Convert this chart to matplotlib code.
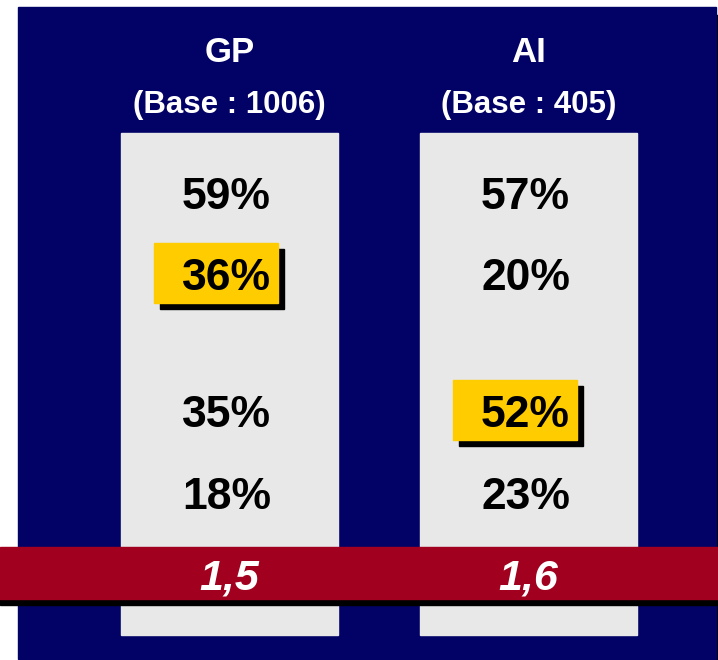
import matplotlib
matplotlib.use("Agg")
import matplotlib.pyplot as plt
from matplotlib.patches import Rectangle

# ---- data ----
groups = ["GP", "AI"]
bases = [1006, 405]
gp_values = [59, 36, 35, 18]
ai_values = [57, 20, 52, 23]
highlight = [1, 2]          # index of highlighted value per group
scores = ["1,5", "1,6"]

values = [gp_values, ai_values]

# ---- style / layout ----
NAVY = "#020266"
GREY = "#E8E8E8"
YELLOW = "#FFCC00"
RED = "#A1001E"
FONT = "Liberation Sans"

W, H = 718, 660
fig = plt.figure(figsize=(W / 100, H / 100), dpi=100)
ax = fig.add_axes([0, 0, 1, 1])
ax.set_xlim(0, W)
ax.set_ylim(H, 0)
ax.axis("off")

# navy panel with shadow
ax.add_patch(Rectangle((26, 15), 698, 652, color="black", zorder=0))
ax.add_patch(Rectangle((18, 7), 698, 652, color=NAVY, zorder=1))

col_x = [(121, 338), (420, 637)]
row_baselines = [209, 290, 427, 509]

for gi, (x0, x1) in enumerate(col_x):
    ax.add_patch(Rectangle((x0, 133), x1 - x0, 502, color=GREY, zorder=2))
    cx = (x0 + x1) / 2 - 3
    ax.text(cx + 3, 62, groups[gi], color="white", fontsize=25,
            fontweight="bold", family=FONT, ha="center", va="baseline", zorder=5)
    ax.text(cx + 3, 113, f"(Base : {bases[gi]})", color="white", fontsize=22.5,
            fontweight="bold", family=FONT, ha="center", va="baseline", zorder=5)
    for ri, v in enumerate(values[gi]):
        yb = row_baselines[ri]
        if ri == highlight[gi]:
            bx0 = x0 + 33
            by0 = yb - 47
            ax.add_patch(Rectangle((bx0 + 6, by0 + 6), 124, 60, color="black", zorder=3))
            ax.add_patch(Rectangle((bx0, by0), 124, 60, color=YELLOW, zorder=4))
        ax.text(cx, yb, f"{v}%", color="black", fontsize=32, fontweight="bold",
                family=FONT, ha="center", va="baseline", zorder=5)

# red score band
ax.add_patch(Rectangle((0, 599), W, 6, color="black", zorder=6))
ax.add_patch(Rectangle((0, 547), W, 52, color=RED, zorder=7))
for gi, (x0, x1) in enumerate(col_x):
    cx = (x0 + x1) / 2
    ax.text(cx, 589, scores[gi], color="white", fontsize=31, fontweight="bold",
            fontstyle="italic", family=FONT, ha="center", va="baseline", zorder=8)

fig.savefig("out.png", dpi=100, facecolor="white")
